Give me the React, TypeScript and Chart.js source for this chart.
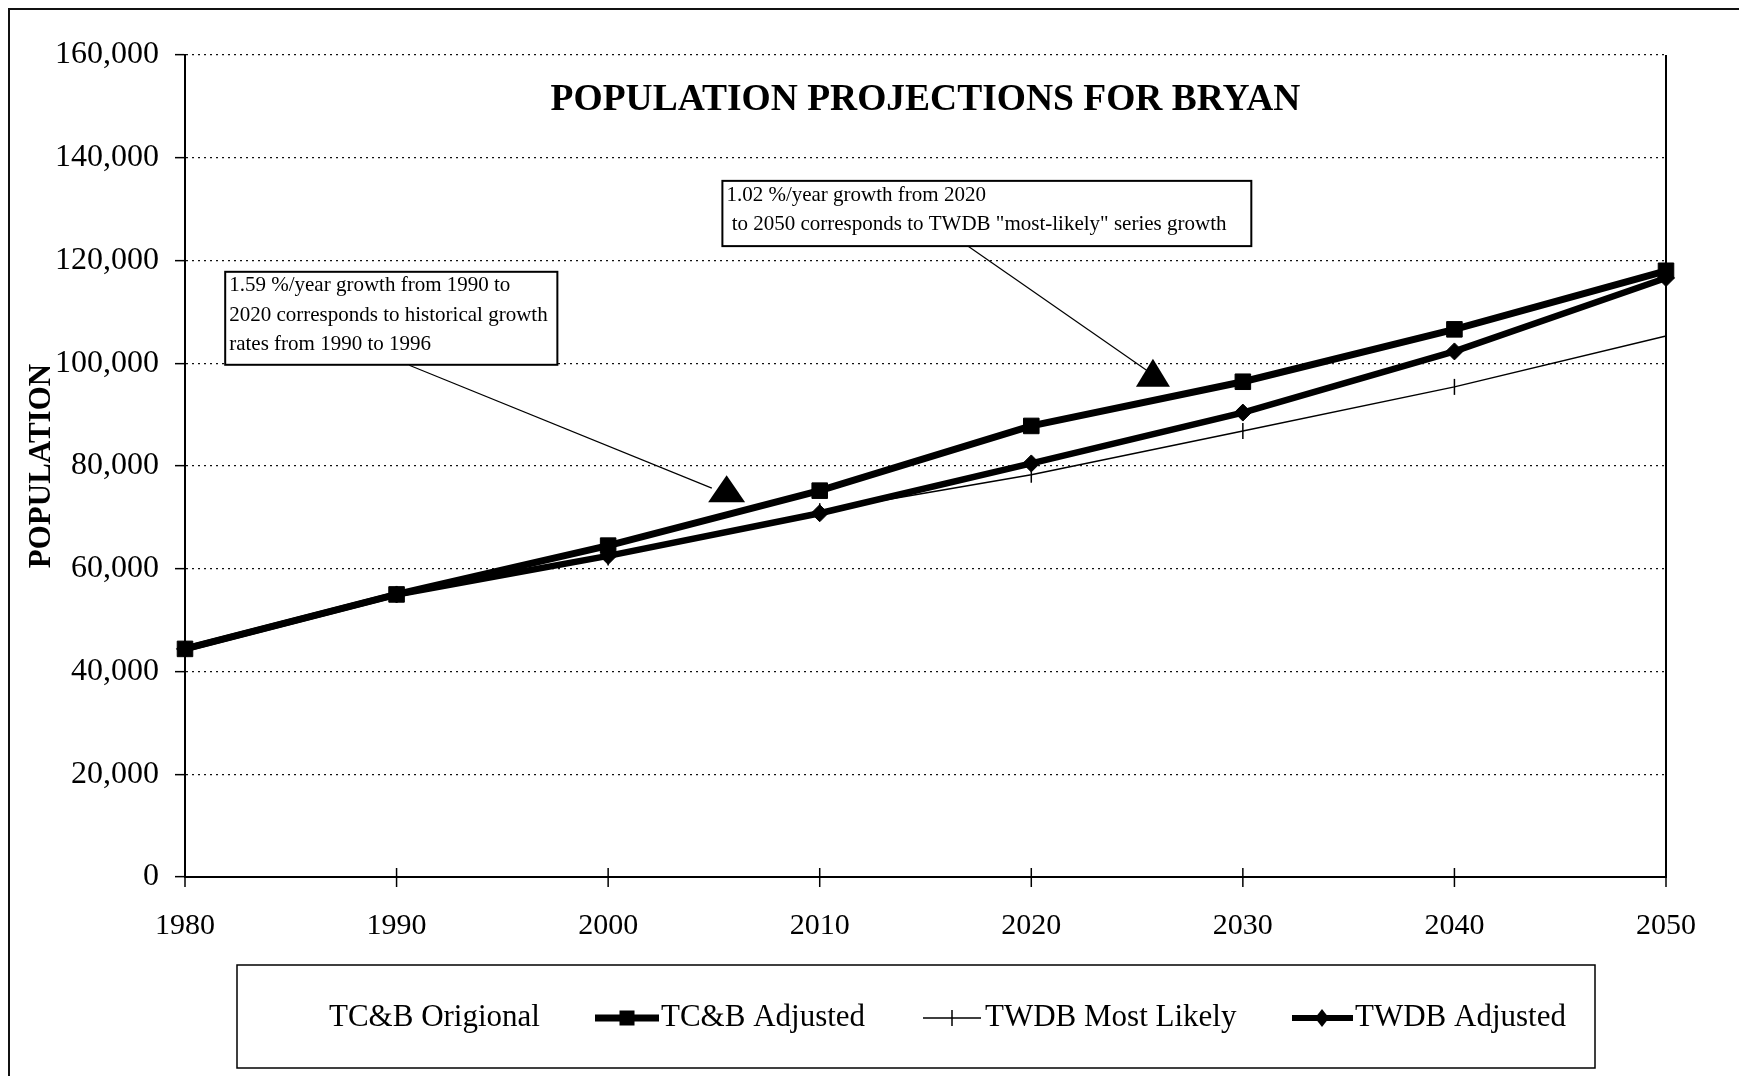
import React, { useEffect, useRef } from "react";
import { Chart, registerables } from "chart.js";

Chart.register(...registerables);

// ---------- data ----------
const years = [1980, 1990, 2000, 2010, 2020, 2030, 2040, 2050];
const tcbOriginal: (number | null)[] = [null, null, null, null, null, null, null, null];
const tcbAdjusted = [44400, 55000, 64500, 75200, 87800, 96400, 106600, 118000];
const twdbMostLikely = [44400, 55000, 62200, 71200, 78300, 86800, 95400, 105300];
const twdbAdjusted = [44400, 55000, 62500, 70800, 80500, 90400, 102300, 116600];
const yTicks = [0, 20000, 40000, 60000, 80000, 100000, 120000, 140000, 160000];

const chartTitle = "POPULATION PROJECTIONS FOR BRYAN";
const yAxisTitle = "POPULATION";
const legendLabels = ["TC&B Origional", "TC&B Adjusted", "TWDB Most Likely", "TWDB Adjusted"];
const note1Lines = [
  "1.59 %/year growth from 1990 to",
  "2020 corresponds to historical growth",
  "rates from 1990 to 1996",
];
const note2Lines = [
  "1.02 %/year growth from 2020",
  " to 2050 corresponds to TWDB \"most-likely\" series growth",
];

const FONT = "'Liberation Serif', 'Times New Roman', serif";

const toPoints = (vals: (number | null)[]) => years.map((yr, i) => ({ x: yr, y: vals[i] }));

const decorPlugin = {
  id: "decor",
  beforeDraw(chart: any) {
    const { ctx, width, height } = chart;
    ctx.save();
    ctx.fillStyle = "#fff";
    ctx.fillRect(0, 0, width, height);
    ctx.strokeStyle = "#111";
    ctx.lineWidth = 2;
    ctx.beginPath();
    ctx.moveTo(9, height);
    ctx.lineTo(9, 9);
    ctx.lineTo(width, 9);
    ctx.stroke();
    ctx.restore();
  },
  afterDraw(chart: any) {
    const { ctx, chartArea, scales } = chart;
    const xs = scales.x;
    const ys = scales.y;
    const px = (v: number) => xs.getPixelForValue(v);
    const py = (v: number) => ys.getPixelForValue(v);
    ctx.save();

    // right border of plot
    ctx.strokeStyle = "#000";
    ctx.lineWidth = 2;
    ctx.beginPath();
    ctx.moveTo(chartArea.right, chartArea.top);
    ctx.lineTo(chartArea.right, chartArea.bottom);
    ctx.stroke();

    // x axis cross ticks
    ctx.lineWidth = 1.5;
    years.forEach((yr) => {
      const x = px(yr);
      ctx.beginPath();
      ctx.moveTo(x, chartArea.bottom - 9);
      ctx.lineTo(x, chartArea.bottom + 10);
      ctx.stroke();
    });

    // title
    ctx.fillStyle = "#000";
    ctx.font = `bold 37.5px ${FONT}`;
    ctx.textAlign = "center";
    ctx.textBaseline = "middle";
    ctx.fillText(chartTitle, (chartArea.left + chartArea.right) / 2, chartArea.top + 45);

    // annotation boxes
    const drawBox = (x1: number, x2: number, yt: number, yb: number, lines: string[], offs: number[]) => {
      const l = px(x1), r = px(x2), t = py(yt), b = py(yb);
      ctx.fillStyle = "#fff";
      ctx.fillRect(l, t, r - l, b - t);
      ctx.strokeStyle = "#000";
      ctx.lineWidth = 2;
      ctx.strokeRect(l, t, r - l, b - t);
      ctx.fillStyle = "#000";
      ctx.font = `21px ${FONT}`;
      ctx.textAlign = "left";
      ctx.textBaseline = "middle";
      lines.forEach((s, i) => ctx.fillText(s, l + 4, t + offs[i]));
    };
    const drawArrow = (x1: number, y1: number, x2: number, y2: number) => {
      ctx.strokeStyle = "#000";
      ctx.lineWidth = 1.2;
      ctx.beginPath();
      ctx.moveTo(px(x1), py(y1));
      ctx.lineTo(px(x2), py(y2));
      ctx.stroke();
    };
    const drawTri = (ax: number, ay: number, h: number, w: number) => {
      const x = px(ax), y = py(ay);
      ctx.fillStyle = "#000";
      ctx.beginPath();
      ctx.moveTo(x, y);
      ctx.lineTo(x + w / 2, y + h);
      ctx.lineTo(x - w / 2, y + h);
      ctx.closePath();
      ctx.fill();
    };
    drawArrow(1990.6, 99600, 2004.9, 75700);
    drawTri(2005.6, 78200, 27, 37);
    drawBox(1981.9, 1997.6, 117800, 99700, note1Lines, [14, 44, 73]);
    drawArrow(2017.0, 122800, 2025.5, 98500);
    drawTri(2025.75, 100900, 28, 34);
    drawBox(2005.4, 2030.4, 135500, 122800, note2Lines, [15, 44]);

    // legend
    const cy = 1018;
    ctx.strokeStyle = "#000";
    ctx.lineWidth = 1.5;
    ctx.strokeRect(237, 965, 1358, 103);
    ctx.fillStyle = "#000";
    ctx.font = `31px ${FONT}`;
    ctx.textAlign = "left";
    ctx.textBaseline = "middle";
    ctx.fillText(legendLabels[0], 329, cy);
    // TC&B Adjusted
    ctx.lineWidth = 7;
    ctx.beginPath();
    ctx.moveTo(595, cy);
    ctx.lineTo(659, cy);
    ctx.stroke();
    ctx.fillRect(627 - 7.5, cy - 7.5, 15, 15);
    ctx.fillText(legendLabels[1], 661, cy);
    // TWDB Most Likely
    ctx.lineWidth = 1.5;
    ctx.beginPath();
    ctx.moveTo(923, cy);
    ctx.lineTo(981, cy);
    ctx.moveTo(952, cy - 8);
    ctx.lineTo(952, cy + 8);
    ctx.stroke();
    ctx.fillText(legendLabels[2], 985, cy);
    // TWDB Adjusted
    ctx.lineWidth = 6;
    ctx.beginPath();
    ctx.moveTo(1292, cy);
    ctx.lineTo(1353, cy);
    ctx.stroke();
    ctx.beginPath();
    ctx.moveTo(1322, cy - 9);
    ctx.lineTo(1329, cy);
    ctx.lineTo(1322, cy + 9);
    ctx.lineTo(1315, cy);
    ctx.closePath();
    ctx.fill();
    ctx.fillText(legendLabels[3], 1355, cy);

    ctx.restore();
  },
};

export default function App() {
  const ref = useRef<HTMLCanvasElement>(null);
  useEffect(() => {
    const canvas = ref.current!;
    const chart = new Chart(canvas, {
      type: "line",
      data: {
        datasets: [
          {
            label: legendLabels[0],
            data: toPoints(tcbOriginal),
            borderColor: "rgba(0,0,0,0)",
            pointRadius: 0,
            showLine: false,
          },
          {
            label: legendLabels[1],
            data: toPoints(tcbAdjusted),
            borderColor: "#000",
            backgroundColor: "#000",
            borderWidth: 7,
            pointStyle: "rect",
            pointRadius: 11,
            pointBackgroundColor: "#000",
            pointBorderColor: "#000",
            pointBorderWidth: 1,
            clip: false,
          },
          {
            label: legendLabels[2],
            data: toPoints(twdbMostLikely),
            borderColor: "#000",
            backgroundColor: "#000",
            borderWidth: 1.5,
            pointStyle: "line",
            pointRotation: 90,
            pointRadius: 8,
            pointBorderColor: "#000",
            pointBorderWidth: 1.5,
            clip: false,
          },
          {
            label: legendLabels[3],
            data: toPoints(twdbAdjusted),
            borderColor: "#000",
            backgroundColor: "#000",
            borderWidth: 6.5,
            pointStyle: "rectRot",
            pointRadius: 8.5,
            pointBackgroundColor: "#000",
            pointBorderColor: "#000",
            pointBorderWidth: 1,
            clip: false,
          },
        ],
      } as any,
      options: {
        responsive: false,
        devicePixelRatio: 1,
        animation: false,
        layout: { padding: { top: 55, right: 73, bottom: 0, left: 0 } },
        elements: { line: { tension: 0 } },
        plugins: {
          legend: { display: false },
          title: { display: false },
          tooltip: { enabled: false },
        },
        scales: {
          x: {
            type: "linear",
            min: 1980,
            max: 2050,
            afterBuildTicks: (s: any) => {
              s.ticks = years.map((v) => ({ value: v }));
            },
            afterFit: (s: any) => {
              s.height = 199;
            },
            ticks: {
              callback: (v: any) => String(v),
              font: { family: FONT, size: 30 },
              color: "#000",
              padding: 23,
              maxRotation: 0,
            },
            grid: { display: false },
            border: { display: true, color: "#000", width: 2 },
          },
          y: {
            min: 0,
            max: 160000,
            afterBuildTicks: (s: any) => {
              s.ticks = yTicks.map((v) => ({ value: v }));
            },
            afterFit: (s: any) => {
              s.width = 185;
            },
            ticks: {
              callback: (v: any) => Number(v).toLocaleString("en-US"),
              font: { family: FONT, size: 32 },
              color: "#000",
              padding: 16,
            },
            grid: {
              color: "#111",
              lineWidth: 1.3,
              drawTicks: true,
              tickLength: 10,
              tickColor: "#000",
              tickWidth: 1.5,
            },
            border: { display: true, color: "#000", width: 2, dash: [2, 4] },
            title: {
              display: true,
              text: yAxisTitle,
              color: "#000",
              font: { family: FONT, size: 31, weight: "bold", lineHeight: 1.2 },
              padding: { top: 23, bottom: 0 },
            },
          },
        },
      } as any,
      plugins: [decorPlugin],
    });
    return () => chart.destroy();
  }, []);

  return (
    <div style={{ position: "absolute", left: 0, top: 0, width: 1739, height: 1076, background: "#fff" }}>
      <canvas ref={ref} width={1739} height={1076} style={{ display: "block", width: 1739, height: 1076 }} />
    </div>
  );
}
